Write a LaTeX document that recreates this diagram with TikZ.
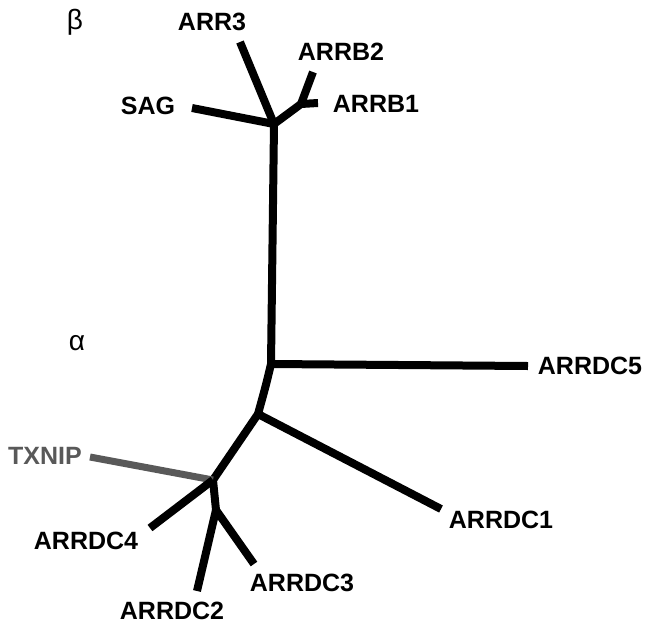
\documentclass[tikz,border=0pt]{standalone}
\usepackage{fontspec}
\setmainfont{Liberation Sans}
\begin{document}
\begin{tikzpicture}[x=1pt,y=-1pt,
  branch/.style={line width=8pt,line cap=butt,line join=round,black},
  graybranch/.style={line width=7pt,line cap=butt,color=black!65},
  lab/.style={font=\fontsize{25}{25}\selectfont\bfseries,inner sep=0pt},
  glab/.style={lab,text=black!65},
  greek/.style={font=\fontsize{28}{28}\selectfont,inner sep=0pt}]
\useasboundingbox (0,0) rectangle (645,630);
% internal junctions
\coordinate (jtop) at (274,124);
\coordinate (jb) at (301,104);
\coordinate (jmid) at (271,364);
\coordinate (j2) at (258,414);
\coordinate (j3) at (213,480);
\coordinate (j4) at (216,510);
% leaf ends
\coordinate (eARR3) at (240,42);
\coordinate (eSAG) at (192,108);
\coordinate (eARRB2) at (313,72);
\coordinate (eARRB1) at (318,103);
\coordinate (eARRDC5) at (528,366);
\coordinate (eARRDC1) at (441,509);
\coordinate (eTXNIP) at (90,457);
\coordinate (eARRDC4) at (150,528);
\coordinate (eARRDC2) at (197,591);
\coordinate (eARRDC3) at (254,564);
% labels
\node[greek] (beta) at (75,22) {β};
\node[greek] (alpha) at (77,343) {α};
\node[lab] (ARR3) at (212,22) {ARR3};
\node[lab] (SAG) at (148,106) {SAG};
\node[lab] (ARRB2) at (341,52) {ARRB2};
\node[lab] (ARRB1) at (376,104) {ARRB1};
\node[lab] (ARRDC5) at (590,366) {ARRDC5};
\node[glab] (TXNIP) at (45,456) {TXNIP};
\node[lab] (ARRDC1) at (501,520) {ARRDC1};
\node[lab] (ARRDC4) at (86,541) {ARRDC4};
\node[lab] (ARRDC3) at (302,583) {ARRDC3};
\node[lab] (ARRDC2) at (172,611) {ARRDC2};
% branches
\draw[branch] (eARR3) -- (jtop);
\draw[branch] (eSAG) -- (jtop);
\draw[branch] (jtop) -- (jb);
\draw[branch] (jb) -- (eARRB2);
\draw[branch] (jb) -- (eARRB1);
\draw[branch] (jtop) -- (jmid);
\draw[branch] (jmid) -- (eARRDC5);
\draw[branch] (jmid) .. controls (266,385) .. (j2);
\draw[branch] (j2) -- (eARRDC1);
\draw[branch] (j2) -- (j3);
\draw[graybranch] (eTXNIP) -- (j3);
\draw[branch] (j3) -- (j4);
\draw[branch] (j3) -- (eARRDC4);
\draw[branch] (j4) -- (eARRDC2);
\draw[branch] (j4) -- (eARRDC3);
\end{tikzpicture}
\end{document}
